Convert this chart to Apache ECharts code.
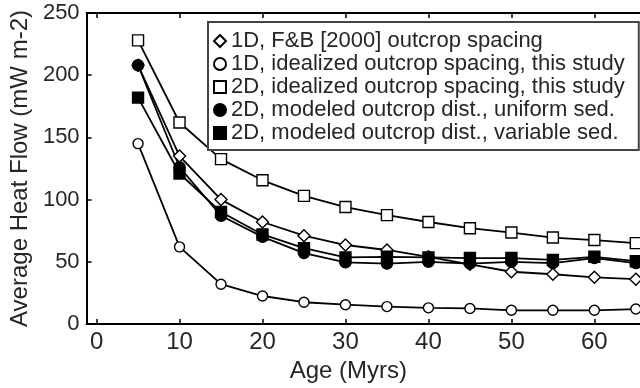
<!DOCTYPE html>
<html>
<head>
<meta charset="utf-8">
<script src="https://cdn.jsdelivr.net/npm/echarts@6/dist/echarts.min.js"></script>
<style>
  html, body { margin: 0; padding: 0; background: #fff; }
  #chart { width: 640px; height: 388px; }
</style>
</head>
<body>
<div id="chart"></div>
<script>
// Plate age (Myrs)
const ages = [5, 10, 15, 20, 25, 30, 35, 40, 45, 50, 55, 60, 65];

// Average heat flow (mW m-2) for each model
const fb1d = [208, 135, 100, 82, 71, 63.5, 59.5, 54, 48, 42, 40, 37.5, 36];
const ideal1d = [145, 62, 32, 22.5, 17.5, 15.5, 14, 13, 12.5, 11, 11, 11, 12];
const ideal2d = [228, 162, 132.5, 115.5, 103, 94, 87.5, 82, 77, 73.5, 69.5, 67.5, 65];
const uniform2d = [208, 126, 87, 70, 57, 49.5, 48.5, 50, 48.5, 50, 49, 53, 49];
const variable2d = [182, 121, 90, 72, 61, 53.5, 54, 53.5, 53, 53, 51.5, 54, 50.5];

// Axis ticks
const xTicks = [0, 10, 20, 30, 40, 50, 60];
const seriesNames = [
  '1D, F&B [2000] outcrop spacing',
  '1D, idealized outcrop spacing, this study',
  '2D, idealized outcrop spacing, this study',
  '2D, modeled outcrop dist., uniform sed.',
  '2D, modeled outcrop dist., variable sed.'
];

const FONT = 'Liberation Sans, Arial, sans-serif';
const TEXT = '#262626';

function pairs(vals) {
  return ages.map((a, i) => [a, vals[i]]);
}

function lineSeries(name, vals, symbol, size, filled) {
  return {
    name: name,
    type: 'line',
    data: pairs(vals),
    symbol: symbol,
    symbolSize: size,
    showAllSymbol: true,
    lineStyle: { color: '#000', width: 1.8 },
    itemStyle: {
      color: filled ? '#000' : '#fff',
      borderColor: '#000',
      borderWidth: 1.4
    },
    emphasis: { disabled: true },
    animation: false
  };
}

const axisCommon = {
  type: 'value',
  min: -1.2,
  max: 65.5,
  axisLine: { show: true, onZero: false, lineStyle: { color: '#000', width: 2 } },
  axisTick: { show: true, inside: true, length: 5, customValues: xTicks, lineStyle: { color: '#000', width: 1.5 } },
  splitLine: { show: false }
};

const chart = echarts.init(document.getElementById('chart'), null, { renderer: 'canvas' });
chart.setOption({
  animation: false,
  backgroundColor: '#fff',
  grid: { left: 86, right: 0, top: 13, bottom: 64, containLabel: false },
  xAxis: [
    Object.assign({}, axisCommon, {
      position: 'bottom',
      name: 'Age (Myrs)',
      nameLocation: 'middle',
      nameGap: 33,
      nameTextStyle: { fontFamily: FONT, fontSize: 24, color: TEXT, padding: [0, 30, 0, 0] },
      axisLabel: { show: true, customValues: xTicks, margin: 6, fontFamily: FONT, fontSize: 24, color: TEXT }
    }),
    Object.assign({}, axisCommon, {
      position: 'top',
      axisLabel: { show: false }
    })
  ],
  yAxis: {
    type: 'value',
    min: 0,
    max: 250,
    interval: 50,
    name: 'Average Heat Flow (mW m-2)',
    nameLocation: 'middle',
    nameGap: 47,
    nameTextStyle: { fontFamily: FONT, fontSize: 24, color: TEXT },
    axisLine: { show: true, onZero: false, lineStyle: { color: '#000', width: 2 } },
    axisTick: { show: true, inside: true, length: 5, lineStyle: { color: '#000', width: 1.5 } },
    axisLabel: { margin: 7, fontFamily: FONT, fontSize: 22, color: TEXT },
    splitLine: { show: false }
  },
  legend: {
    orient: 'vertical',
    left: 208,
    top: 22,
    padding: [8, 14, 6, 5],
    itemGap: 1,
    itemWidth: 12,
    itemHeight: 12,
    borderColor: '#444',
    borderWidth: 2,
    backgroundColor: '#fff',
    selectedMode: false,
    textStyle: { fontFamily: FONT, fontSize: 22, color: TEXT, lineHeight: 22, padding: [0, 0, 0, 0] },
    data: [
      { name: seriesNames[0], icon: 'diamond' },
      { name: seriesNames[1], icon: 'circle' },
      { name: seriesNames[2], icon: 'rect' },
      { name: seriesNames[3], icon: 'circle' },
      { name: seriesNames[4], icon: 'rect' }
    ]
  },
  series: [
    lineSeries(seriesNames[0], fb1d, 'diamond', 12, false),
    lineSeries(seriesNames[1], ideal1d, 'circle', 10, false),
    lineSeries(seriesNames[2], ideal2d, 'rect', 11, false),
    lineSeries(seriesNames[3], uniform2d, 'circle', 11, true),
    lineSeries(seriesNames[4], variable2d, 'rect', 11, true)
  ]
});
</script>
</body>
</html>
